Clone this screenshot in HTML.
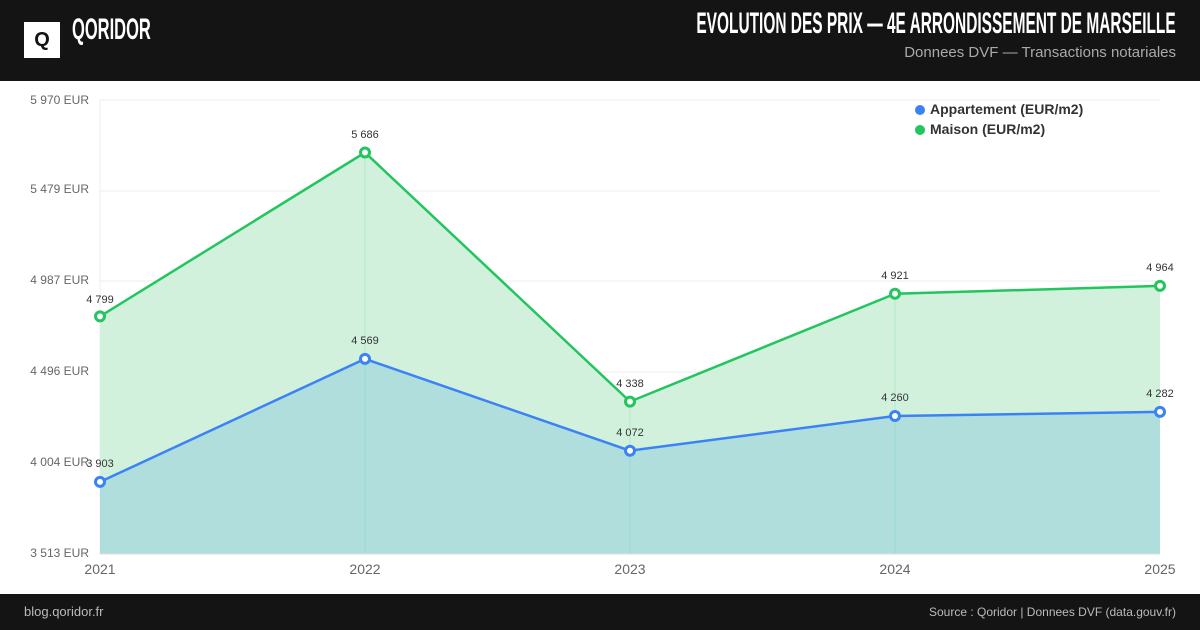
<!DOCTYPE html>
<html><head><meta charset="utf-8"><style>
body{margin:0;width:1200px;height:630px;overflow:hidden;background:#fff;font-family:"Liberation Sans",sans-serif;position:relative}
.hd{position:absolute;left:0;top:0;width:1200px;height:81px;background:#141414}
.ft{position:absolute;left:0;top:594px;width:1200px;height:36px;background:#141414;color:#bbb;font-size:12px}
.nar{font-family:"Liberation Sans",sans-serif;font-weight:bold;color:#fff;white-space:nowrap}
</style></head><body>
<div class="hd">
<div style="position:absolute;left:24px;top:22px;width:36px;height:36px;background:#fff;color:#141414;font-weight:bold;font-size:20px;text-align:center;line-height:36px">Q</div>
<div class="nar" style="position:absolute;left:72px;top:13px;font-size:30px;transform:scaleX(0.55);transform-origin:left top">QORIDOR</div>
<div class="nar" style="position:absolute;right:24px;top:7px;font-size:30px;transform:scaleX(0.515);transform-origin:right top">EVOLUTION DES PRIX — 4E ARRONDISSEMENT DE MARSEILLE</div>
<div style="position:absolute;right:24px;top:44px;font-size:15px;color:#aaa">Donnees DVF — Transactions notariales</div>
</div>
<svg width="1200" height="630" style="position:absolute;left:0;top:0" font-family="Liberation Sans, sans-serif">
<g stroke="#ececec" stroke-width="1">
<line x1="100" y1="100" x2="1160" y2="100"/><line x1="100" y1="191" x2="1160" y2="191"/><line x1="100" y1="281" x2="1160" y2="281"/><line x1="100" y1="372" x2="1160" y2="372"/><line x1="100" y1="463" x2="1160" y2="463"/><line x1="100" y1="100" x2="100" y2="554"/>
</g>
<polygon points="100,316.4 365,152.5 630,401.6 895,293.8 1160,285.9 1160,554 100,554" fill="#d2f1dd"/>
<polygon points="100,481.9 365,358.9 630,450.7 895,416 1160,411.9 1160,554 100,554" fill="#b0dedc"/>
<g stroke="#22c55e" stroke-opacity="0.18"><line x1="365" y1="152" x2="365" y2="554"/><line x1="630" y1="401" x2="630" y2="554"/><line x1="895" y1="293" x2="895" y2="554"/></g>
<line x1="100" y1="554" x2="1160" y2="554" stroke="#ddd"/>
<polyline points="100,316.4 365,152.5 630,401.6 895,293.8 1160,285.9" fill="none" stroke="#22c55e" stroke-width="2.5"/>
<polyline points="100,481.9 365,358.9 630,450.7 895,416 1160,411.9" fill="none" stroke="#3b82f6" stroke-width="2.5"/>
<g fill="#fff" stroke="#22c55e" stroke-width="3"><circle cx="100" cy="316.4" r="4.5"/><circle cx="365" cy="152.5" r="4.5"/><circle cx="630" cy="401.6" r="4.5"/><circle cx="895" cy="293.8" r="4.5"/><circle cx="1160" cy="285.9" r="4.5"/></g>
<g fill="#fff" stroke="#3b82f6" stroke-width="3"><circle cx="100" cy="481.9" r="4.5"/><circle cx="365" cy="358.9" r="4.5"/><circle cx="630" cy="450.7" r="4.5"/><circle cx="895" cy="416" r="4.5"/><circle cx="1160" cy="411.9" r="4.5"/></g>
<g font-size="11" fill="#333" text-anchor="middle">
<text x="100" y="303">4 799</text><text x="365" y="138">5 686</text><text x="630" y="387">4 338</text><text x="895" y="279">4 921</text><text x="1160" y="271">4 964</text>
<text x="100" y="467">3 903</text><text x="365" y="344">4 569</text><text x="630" y="436">4 072</text><text x="895" y="401">4 260</text><text x="1160" y="397">4 282</text>
</g>
<g font-size="12" fill="#666" text-anchor="end">
<text x="89" y="104">5 970 EUR</text><text x="89" y="193">5 479 EUR</text><text x="89" y="284">4 987 EUR</text><text x="89" y="375">4 496 EUR</text><text x="89" y="466">4 004 EUR</text><text x="89" y="557">3 513 EUR</text>
</g>
<g font-size="14" fill="#666" text-anchor="middle">
<text x="100" y="574">2021</text><text x="365" y="574">2022</text><text x="630" y="574">2023</text><text x="895" y="574">2024</text><text x="1160" y="574">2025</text>
</g>
<circle cx="920" cy="110" r="5" fill="#3b82f6"/><text x="930" y="114" font-size="14" font-weight="bold" fill="#333">Appartement (EUR/m2)</text>
<circle cx="920" cy="130" r="5" fill="#22c55e"/><text x="930" y="134" font-size="14" font-weight="bold" fill="#333">Maison (EUR/m2)</text>
</svg>
<div class="ft"><span style="position:absolute;left:24px;top:10px;font-size:13px">blog.qoridor.fr</span><span style="position:absolute;right:24px;top:11px">Source : Qoridor | Donnees DVF (data.gouv.fr)</span></div>
</body></html>
